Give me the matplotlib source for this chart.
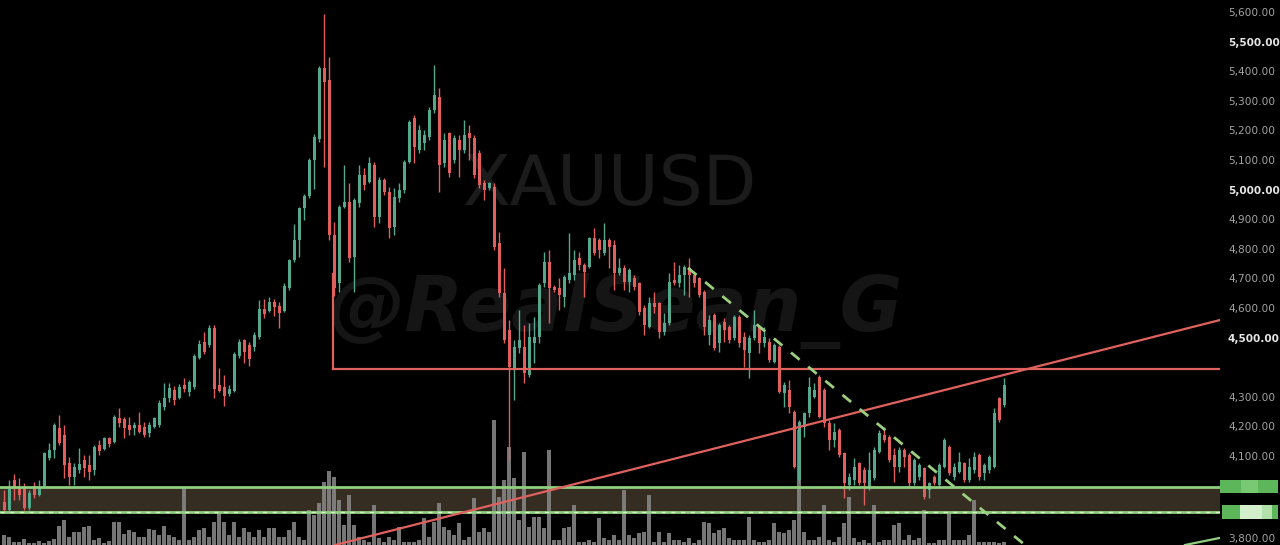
import numpy as np
import matplotlib.pyplot as plt
from matplotlib.patches import Rectangle

# XAUUSD candles, oldest first
opens = [3948, 3921, 4022, 3999, 3999, 3928, 4002, 3972, 4002, 4097,
         4124, 4198, 4174, 4080, 4033, 4056, 4090, 4073, 4056, 4141,
         4127, 4164, 4151, 4232, 4229, 4208, 4198, 4208, 4201, 4181,
         4201, 4208, 4269, 4299, 4327, 4299, 4343, 4320, 4337, 4435,
         4489, 4478, 4536, 4343, 4337, 4313, 4323, 4441, 4495, 4478,
         4472, 4506, 4600, 4593, 4624, 4610, 4593, 4671, 4766, 4833,
         4941, 4982, 5103, 5174, 5414, 5374, 4850, 4688, 4945, 4962,
         4776, 4958, 5053, 5029, 5087, 4911, 5036, 4995, 4877, 4975,
         5002, 5097, 5245, 5137, 5161, 5181, 5272, 5316, 5093, 5195,
         5103, 5171, 5137, 5195, 5178, 5127, 5026, 5009, 5012, 4823,
         4654, 4529, 4401, 4468, 4472, 4377, 4485, 4506, 4688, 4759,
         4675, 4671, 4641, 4698, 4715, 4772, 4749, 4742, 4840, 4833,
         4789, 4833, 4816, 4722, 4739, 4691, 4705, 4688, 4604, 4539,
         4620, 4620, 4522, 4553, 4698, 4688, 4715, 4739, 4715, 4705,
         4658, 4512, 4580, 4485, 4556, 4539, 4502, 4573, 4506, 4451,
         4502, 4539, 4485, 4489, 4421, 4472, 4316, 4327, 4252, 4022,
         4201, 4249, 4303, 4370, 4327, 4215, 4157, 4191, 4114, 4006,
         4022, 4080, 4056, 3996, 4029, 4117, 4174, 4168, 4107, 4066,
         4124, 4107, 4012, 4033, 4063, 3989, 4033, 4006, 4066, 4134,
         4033, 4050, 4080, 4022, 4056, 4107, 4046, 4056, 4066, 4299,
         4276]
highs = [3989, 4022, 4043, 4029, 4012, 3989, 4016, 4022, 4117, 4147,
         4215, 4242, 4208, 4100, 4080, 4131, 4107, 4107, 4141, 4157,
         4168, 4168, 4242, 4266, 4235, 4235, 4218, 4252, 4218, 4218,
         4235, 4293, 4350, 4350, 4340, 4347, 4367, 4360, 4448, 4495,
         4522, 4546, 4546, 4401, 4377, 4343, 4455, 4499, 4499, 4489,
         4522, 4631, 4634, 4641, 4634, 4624, 4688, 4769, 4887, 4945,
         4989, 5110, 5191, 5421, 5597, 5451, 4894, 4951, 5087, 5026,
         4975, 5087, 5076, 5114, 5097, 5046, 5043, 5012, 5009, 5026,
         5103, 5239, 5256, 5222, 5205, 5283, 5424, 5347, 5195, 5198,
         5188, 5188, 5239, 5222, 5188, 5137, 5036, 5029, 5026, 4860,
         4739, 4563, 4495, 4597, 4546, 4553, 4573, 4688, 4793, 4800,
         4681, 4705, 4715, 4857, 4800, 4793, 4756, 4843, 4874, 4840,
         4891, 4840, 4833, 4772, 4749, 4739, 4715, 4691, 4614, 4641,
         4658, 4624, 4587, 4722, 4759, 4749, 4749, 4772, 4725, 4708,
         4664, 4580, 4587, 4553, 4570, 4546, 4580, 4580, 4522, 4512,
         4597, 4546, 4539, 4502, 4485, 4478, 4354, 4360, 4259, 4225,
         4252, 4370, 4350, 4377, 4333, 4225, 4215, 4198, 4117, 4046,
         4097, 4083, 4066, 4117, 4134, 4191, 4201, 4174, 4131, 4134,
         4131, 4114, 4097, 4080, 4066, 4016, 4039, 4080, 4164, 4141,
         4080, 4117, 4083, 4097, 4117, 4114, 4080, 4107, 4266, 4303,
         4367]
lows = [3918, 3918, 3955, 3955, 3921, 3921, 3962, 3968, 3999, 4090,
        4097, 4141, 4029, 4006, 4006, 4046, 4033, 4022, 4039, 4107,
        4124, 4134, 4147, 4201, 4164, 4174, 4174, 4181, 4168, 4168,
        4198, 4201, 4259, 4286, 4276, 4296, 4320, 4306, 4330, 4431,
        4448, 4472, 4299, 4320, 4273, 4306, 4320, 4435, 4418, 4408,
        4458, 4499, 4570, 4590, 4577, 4536, 4590, 4664, 4759, 4776,
        4901, 4975, 5006, 5164, 5080, 4833, 4644, 4658, 4941, 4759,
        4658, 4945, 5002, 5026, 4877, 4891, 4985, 4840, 4850, 4962,
        4992, 5093, 5093, 5127, 5137, 5171, 5262, 4995, 5080, 5046,
        5093, 5046, 5127, 5103, 5043, 5009, 4968, 5002, 4800, 4641,
        4485, 4090, 4293, 4451, 4350, 4370, 4418, 4485, 4675, 4553,
        4658, 4597, 4607, 4688, 4698, 4732, 4641, 4739, 4783, 4772,
        4783, 4739, 4664, 4715, 4664, 4658, 4664, 4580, 4512, 4536,
        4587, 4502, 4512, 4546, 4681, 4675, 4647, 4641, 4675, 4641,
        4512, 4478, 4462, 4455, 4489, 4485, 4495, 4472, 4404, 4367,
        4495, 4451, 4472, 4421, 4418, 4316, 4269, 4249, 4063, 4012,
        4168, 4235, 4299, 4232, 4201, 4124, 4134, 4100, 3962, 3989,
        4006, 4006, 3938, 3989, 4022, 4114, 4151, 4083, 4016, 4050,
        4066, 3996, 4006, 4022, 3958, 3962, 4006, 3999, 4063, 4039,
        4022, 4046, 4016, 4016, 4046, 4022, 4022, 4046, 4063, 4218,
        4269]
closes = [3921, 3992, 3999, 3972, 3928, 3979, 3972, 3999, 4114, 4124,
          4208, 4147, 4073, 4033, 4066, 4077, 4063, 4050, 4134, 4120,
          4164, 4144, 4235, 4215, 4198, 4191, 4208, 4185, 4174, 4208,
          4232, 4282, 4299, 4333, 4293, 4337, 4330, 4354, 4441, 4482,
          4455, 4536, 4330, 4323, 4306, 4330, 4448, 4489, 4455, 4431,
          4512, 4600, 4583, 4624, 4607, 4587, 4678, 4766, 4833, 4941,
          4982, 5103, 5181, 5414, 5367, 4850, 4671, 4945, 4962, 4772,
          4968, 5053, 5019, 5093, 4911, 5036, 4995, 4874, 4978, 5002,
          5097, 5232, 5147, 5205, 5188, 5272, 5323, 5087, 5171, 5060,
          5178, 5137, 5188, 5178, 5053, 5019, 5002, 5026, 4810, 4654,
          4495, 4404, 4472, 4495, 4384, 4506, 4506, 4681, 4759, 4671,
          4664, 4647, 4708, 4722, 4766, 4749, 4725, 4840, 4789, 4800,
          4833, 4810, 4722, 4739, 4691, 4732, 4675, 4590, 4546, 4620,
          4607, 4522, 4553, 4691, 4688, 4715, 4742, 4715, 4688, 4647,
          4539, 4563, 4468, 4546, 4529, 4495, 4573, 4485, 4462, 4502,
          4546, 4485, 4506, 4428, 4478, 4320, 4343, 4269, 4066, 4218,
          4249, 4337, 4327, 4235, 4215, 4157, 4185, 4107, 4012, 4033,
          4066, 4012, 4012, 4056, 4124, 4181, 4157, 4090, 4066, 4124,
          4100, 4012, 4090, 4073, 3965, 4012, 4012, 4073, 4157, 4046,
          4066, 4083, 4022, 4066, 4100, 4033, 4073, 4100, 4249, 4225,
          4343]
volumes = [10, 8, 3, 3, 6, 2, 2, 4, 2, 4,
           6, 19, 25, 8, 13, 13, 18, 19, 5, 7,
           2, 4, 23, 23, 11, 15, 13, 8, 8, 16,
           15, 10, 19, 10, 8, 5, 58, 5, 8, 15,
           17, 8, 23, 32, 23, 10, 23, 8, 17, 13,
           8, 15, 8, 17, 17, 8, 8, 15, 23, 8,
           5, 35, 30, 42, 63, 74, 68, 45, 20, 50,
           20, 8, 5, 3, 40, 7, 3, 8, 5, 18,
           3, 3, 3, 5, 27, 8, 23, 42, 18, 15,
           10, 22, 5, 8, 47, 13, 17, 13, 125, 48,
           65, 98, 67, 25, 93, 18, 28, 28, 17, 95,
           5, 5, 17, 18, 40, 3, 3, 5, 3, 27,
           7, 5, 10, 5, 55, 10, 7, 12, 13, 50,
           3, 13, 3, 12, 5, 5, 3, 7, 2, 5,
           23, 22, 12, 15, 17, 7, 5, 5, 5, 28,
           5, 3, 3, 5, 22, 13, 12, 15, 25, 115,
           13, 5, 5, 8, 40, 5, 3, 8, 22, 48,
           7, 3, 5, 2, 40, 3, 5, 5, 20, 22,
           5, 10, 5, 7, 35, 2, 2, 5, 5, 32,
           5, 5, 5, 10, 45, 3, 3, 3, 3, 2,
           3]

# drawn levels / trendlines
red_level = 4397
zone_top, zone_bot = 4000, 3915
red_trend = [(66.2, 3803), (243.2, 4563)]
green_dash = [(136.8, 4739), (204.2, 3803)]
green_trend = [(236.2, 3803), (243.2, 3827)]
price_ticks = [5600, 5500, 5400, 5300, 5200, 5100, 5000, 4900, 4800,
               4700, 4600, 4500, 4300, 4200, 4100]
bold_ticks = [5500, 5000, 4500]

UP = '#55a88e'
DOWN = '#e05f5d'

o = np.array(opens); h = np.array(highs); l = np.array(lows); c = np.array(closes)
x = np.arange(len(o))
up = c >= o

fig = plt.figure(figsize=(12.8, 5.45), dpi=100, facecolor='black')
ax = fig.add_axes([0, 0, 1220 / 1280, 1])
axv = ax.twinx()
ax.set_zorder(axv.get_zorder() + 1)
ax.patch.set_visible(False)
axv.patch.set_visible(False)

ymin, ymax = 3803, 5644
xmin, xmax = -0.8, 243.2
ax.set_xlim(xmin, xmax)
ax.set_ylim(ymin, ymax)
axv.set_ylim(0, 545)

# support zone sits under the volume bars
axv.add_patch(Rectangle((xmin, zone_bot), xmax - xmin, zone_top - zone_bot,
                        transform=ax.transData, color='#3b3226', alpha=0.9, lw=0, zorder=0))

# volume
axv.bar(x, volumes, width=0.75, color='#8a8a8a', alpha=0.85, linewidth=0, zorder=1)

# watermarks
ax.text(0.5, 0.66, 'XAUUSD', transform=ax.transAxes, ha='center', va='center',
        fontsize=50, color='#1b1b1b', zorder=0)
ax.text(0.505, 0.43, '@RealSean_G', transform=ax.transAxes, ha='center', va='center',
        fontsize=55, color='#151515', fontweight='bold', fontstyle='italic', zorder=0)

ax.axhline(zone_top, color='#8fcf7f', lw=2, zorder=4)
ax.axhline(zone_bot, color='#8fcf7f', lw=2, zorder=4)
ax.axhline(zone_bot, color='#d8f0c8', lw=1, ls=(0, (3, 4)), zorder=4)

# candles
ax.vlines(x[up], l[up], h[up], color=UP, lw=1, zorder=3)
ax.vlines(x[~up], l[~up], h[~up], color=DOWN, lw=1, zorder=3)
body = np.maximum(np.abs(c - o), 3)
ax.bar(x[up], body[up], bottom=np.minimum(o, c)[up], width=0.6, color=UP, lw=0, zorder=3)
ax.bar(x[~up], body[~up], bottom=np.minimum(o, c)[~up], width=0.6, color=DOWN, lw=0, zorder=3)

# red drawings
ax.plot([65.8, xmax], [red_level, red_level], color='#e0625f', lw=1.6, zorder=5)
ax.plot([65.8, 65.8], [4720, red_level], color='#e0625f', lw=1.6, zorder=5)
ax.plot(*zip(*red_trend), color='#e0625f', lw=1.6, zorder=5)
ax.plot(*zip(*green_dash), color='#9ccf7f', lw=2, ls=(0, (4, 4)), zorder=5)
ax.plot(*zip(*green_trend), color='#8fcf7f', lw=1.6, zorder=5)

for s in ax.spines.values():
    s.set_visible(False)
for s in axv.spines.values():
    s.set_visible(False)
ax.set_xticks([]); ax.set_yticks([])
axv.set_yticks([])

# price scale
tr = ax.get_yaxis_transform()
for p in price_ticks:
    bold = p in bold_ticks
    ax.text(1 + 8 / 1220, p, f'{p:,.2f}', transform=tr, ha='left', va='center',
            fontsize=7.6, color='#e6e6e6' if bold else '#a3a3a3',
            fontweight='bold' if bold else 'normal', clip_on=False)
# bottom label sits on the lower edge
ax.text(1 + 8 / 1220, 0.002, '3,800.00', transform=ax.transAxes, ha='left', va='bottom',
        fontsize=7.6, color='#a3a3a3', clip_on=False)

# green price labels for the zone
def fig_rect(x0, y0, x1, y1, color):
    fig.add_artist(Rectangle((x0 / 1280, 1 - y1 / 545), (x1 - x0) / 1280, (y1 - y0) / 545,
                             transform=fig.transFigure, color=color, lw=0))

fig_rect(1220, 480, 1278, 493, '#5db65a')
fig_rect(1241, 480, 1258, 493, '#79c874')
fig_rect(1222, 505, 1278, 519, '#5db65a')
fig_rect(1240, 505, 1262, 519, '#d2eecb')
fig_rect(1262, 505, 1272, 519, '#b2e0aa')

fig.savefig('out.png', dpi=100, facecolor='black')
